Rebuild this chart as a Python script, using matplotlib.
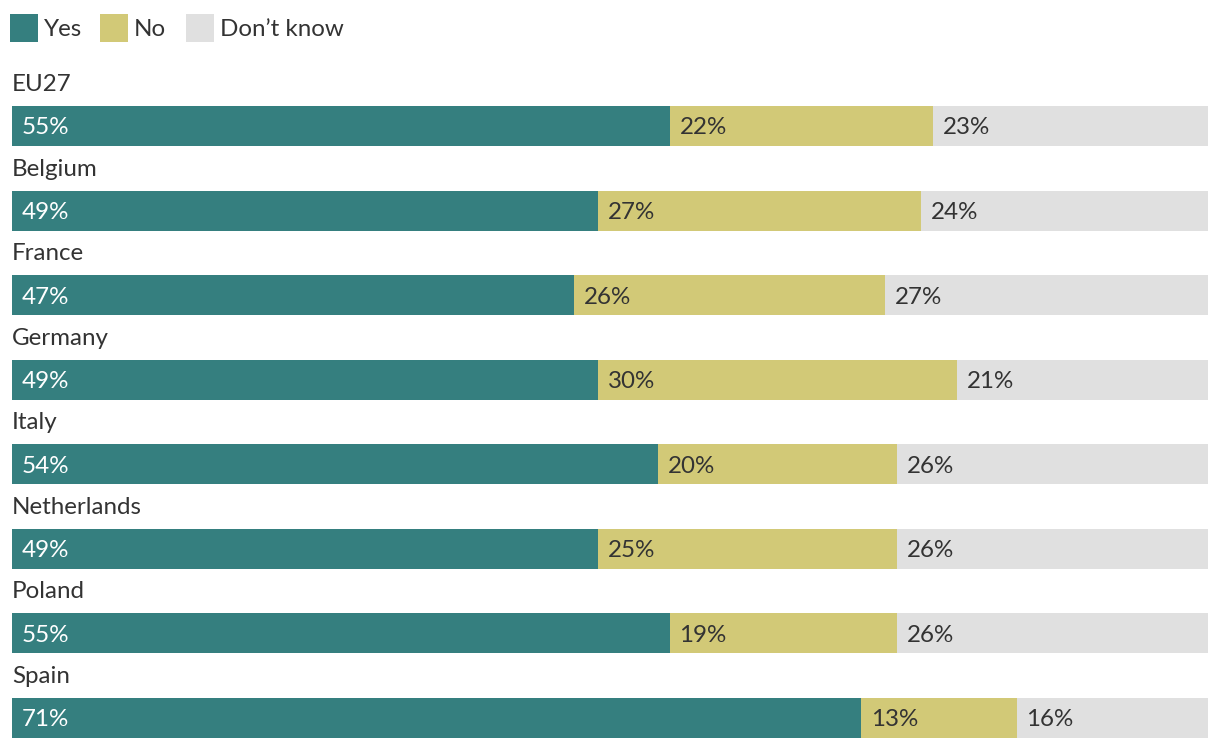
import matplotlib
matplotlib.use("Agg")
import matplotlib.pyplot as plt
from matplotlib.patches import Rectangle

plt.rcParams["font.family"] = ["Lato", "DejaVu Sans"]

countries = ["EU27", "Belgium", "France", "Germany", "Italy",
             "Netherlands", "Poland", "Spain"]
yes = [55, 49, 47, 49, 54, 49, 55, 71]
no = [22, 27, 26, 30, 20, 25, 19, 13]
dont_know = [23, 24, 27, 21, 26, 26, 26, 16]

series = [("Yes", yes, "#357f7f", "white"),
          ("No", no, "#d2c977", "#333333"),
          ("Don\u2019t know", dont_know, "#e0e0e0", "#333333")]

W, H = 1220, 750
fig = plt.figure(figsize=(W / 100, H / 100), dpi=100)
# axes in percent horizontally, pixels vertically
ax = fig.add_axes([12 / W, 0, 1196 / W, 1])
ax.set_xlim(0, 100)
ax.set_ylim(H, 0)
ax.axis("off")

FS = 17.4
top0, step, bar_h = 106, 84.57, 40

for i, c in enumerate(countries):
    top = top0 + i * step
    mid = top + bar_h / 2
    ax.text(0, top - 15, c, fontsize=FS, color="#333333", va="baseline", ha="left")
    left = 0
    for name, vals, col, tcol in series:
        v = vals[i]
        ax.barh(mid, v, left=left, height=bar_h, color=col, edgecolor="none")
        ax.annotate(f"{v}%", (left, mid), xytext=(7, 0), textcoords="offset points",
                    fontsize=FS, color=tcol, va="center_baseline", ha="left")
        left += v

# legend in pixel positions
leg_x = [10, 100, 186]
for (name, vals, col, tcol), x in zip(series, leg_x):
    fig.add_artist(Rectangle((x / W, 1 - 42 / H), 28 / W, 28 / H,
                             transform=fig.transFigure, color=col, lw=0))
    fig.text((x + 34) / W, 1 - 27 / H, name, fontsize=FS, color="#333333",
             va="center_baseline", ha="left")

fig.savefig("out.png", dpi=100)
